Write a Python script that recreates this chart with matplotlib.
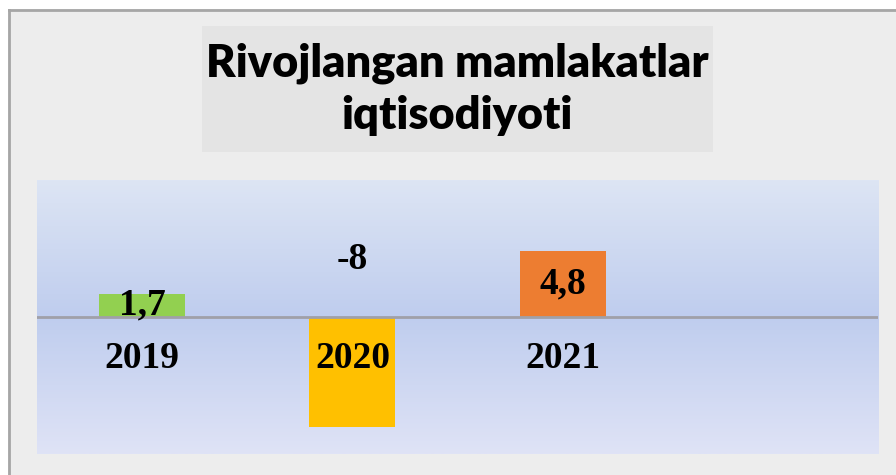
import numpy as np
import matplotlib.pyplot as plt
from matplotlib.patches import Rectangle
from matplotlib.colors import LinearSegmentedColormap

years = ["2019", "2020", "2021", ""]
values = [1.7, -8, 4.8, None]
value_labels = ["1,7", "-8", "4,8"]
bar_colors = ["#92d050", "#ffc000", "#ed7d31"]
title_lines = ["Rivojlangan mamlakatlar", "iqtisodiyoti"]

W, H = 896, 475
fig = plt.figure(figsize=(W / 100, H / 100), dpi=100)
fig.patch.set_facecolor("white")

# chart area background + border (top and left only visible)
fig.add_artist(Rectangle((8 / W, 0), 1, 1 - 9 / H, transform=fig.transFigure,
                         facecolor="#ededed", edgecolor="none", zorder=0))
fig.add_artist(plt.Line2D([8.5 / W, 8.5 / W], [0, 1 - 9.5 / H], color="#a6a6a6", lw=2,
                          transform=fig.transFigure))
fig.add_artist(plt.Line2D([8.5 / W, 1], [1 - 9.5 / H, 1 - 9.5 / H], color="#a6a6a6", lw=2,
                          transform=fig.transFigure))

# title box
fig.add_artist(Rectangle((202 / W, 1 - 152 / H), (713 - 202) / W, (152 - 26) / H,
                         transform=fig.transFigure, facecolor="#e4e4e4", edgecolor="none", zorder=1))
title_font = dict(family="Lato", fontweight="heavy", fontsize=32.5, color="black")
fig.text(457 / W, 1 - 76 / H, title_lines[0], ha="center", va="baseline", zorder=2, **title_font)
fig.text(457 / W, 1 - 129 / H, title_lines[1], ha="center", va="baseline", zorder=2, **title_font)

# plot area
left, right, top, bottom = 37, 878, 180, 454
ax = fig.add_axes([left / W, 1 - bottom / H, (right - left) / W, (bottom - top) / H])
ax.set_xlim(-0.5, len(years) - 0.5)
ax.set_ylim(-10, 10)

grad = LinearSegmentedColormap.from_list("bg", ["#dde5f4", "#bfcdee", "#dfe3f6"])
ax.imshow(np.linspace(0, 1, 256).reshape(-1, 1), cmap=grad, aspect="auto",
          extent=[-0.5, len(years) - 0.5, -10, 10], origin="upper", zorder=0)

x = np.arange(len(years))
for i, v in enumerate(values):
    if v is None:
        continue
    ax.bar(x[i], v, width=0.41, color=bar_colors[i], zorder=2)

ax.axhline(0, color="#a0a0a8", lw=2, zorder=3)

serif = dict(family="Liberation Serif", fontweight="bold", fontsize=27, color="black")
for i, v in enumerate(values):
    if v is None:
        continue
    ypos = v / 2 if v > 0 else 4.2
    ax.text(x[i], ypos, value_labels[i], ha="center", va="center", zorder=4, **serif)
    ax.text(x[i], -3.0, years[i], ha="center", va="center", zorder=4, **serif)

ax.set_xticks([])
ax.set_yticks([])
for s in ax.spines.values():
    s.set_visible(False)

fig.savefig("out.png", dpi=100)
